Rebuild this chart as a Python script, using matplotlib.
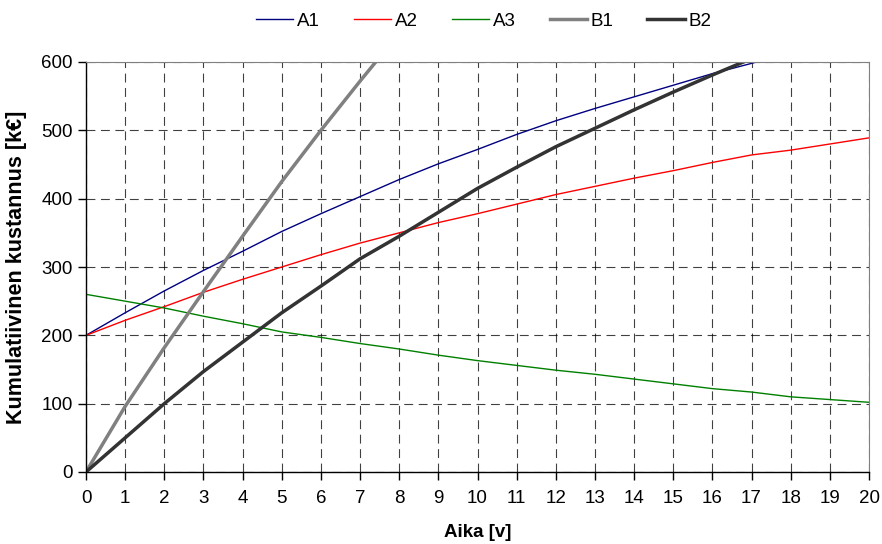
import matplotlib
matplotlib.use('Agg')
import matplotlib.pyplot as plt

plt.rcParams['font.family'] = ['Liberation Sans', 'DejaVu Sans']

years = list(range(21))
a1 = [200, 233, 265, 295, 323, 352, 378, 403, 428, 451, 472, 494, 514, 532, 549, 566, 583, 598, 614, 629, 644]
a2 = [200, 222, 242, 263, 282, 300, 318, 335, 350, 365, 378, 392, 406, 418, 430, 441, 453, 464, 471, 480, 489]
a3 = [260, 250, 240, 228, 217, 205, 197, 188, 180, 171, 163, 156, 149, 143, 136, 129, 122, 117, 110, 106, 102]
b1_years = [0, 1, 2, 3, 4, 5, 6, 7, 8]
b1 = [0, 96, 182, 264, 345, 425, 500, 572, 642]
b2_years = list(range(19))
b2 = [0, 50, 100, 147, 190, 233, 272, 312, 345, 380, 415, 446, 476, 503, 530, 556, 581, 605, 628]

fig = plt.figure(figsize=(8.82, 5.44), dpi=100)
ax = fig.add_axes([86 / 882, 1 - 472 / 544, (869 - 86) / 882, (472 - 62) / 544])

ax.plot(years, a1, color='#000080', lw=1.0, label='A1')
ax.plot(years, a2, color='#ff0000', lw=1.0, label='A2')
ax.plot(years, a3, color='#008000', lw=1.0, label='A3')
ax.plot(b1_years, b1, color='#808080', lw=2.5, label='B1')
ax.plot(b2_years, b2, color='#333333', lw=2.5, label='B2')

ax.set_xlim(0, 20)
ax.set_ylim(0, 600)
ax.set_xticks(range(0, 21))
ax.set_yticks(range(0, 601, 100))
ax.grid(True, color='black', linestyle=(0, (8, 5)), linewidth=0.8, alpha=0.75)
ax.set_axisbelow(True)

for s in ['top', 'right']:
    ax.spines[s].set_color('#808080')
for s in ['left', 'bottom']:
    ax.spines[s].set_color('black')
    ax.spines[s].set_linewidth(1.0)

ax.tick_params(axis='both', labelsize=13.5, length=6, width=1, direction='out')
ax.tick_params(axis='x', pad=7)

ax.set_xlabel('Aika [v]', fontsize=13.5, fontweight='bold', labelpad=12)
ax.set_ylabel('Kumulatiivinen kustannus [k€]', fontsize=15.5, fontweight='bold', labelpad=10)

ax.legend(loc='center', bbox_to_anchor=(0.508, 1.1), ncol=5, frameon=False,
          fontsize=13.5, handlelength=2.0, handletextpad=0.2, columnspacing=1.8)

fig.savefig('out.png', dpi=100)
